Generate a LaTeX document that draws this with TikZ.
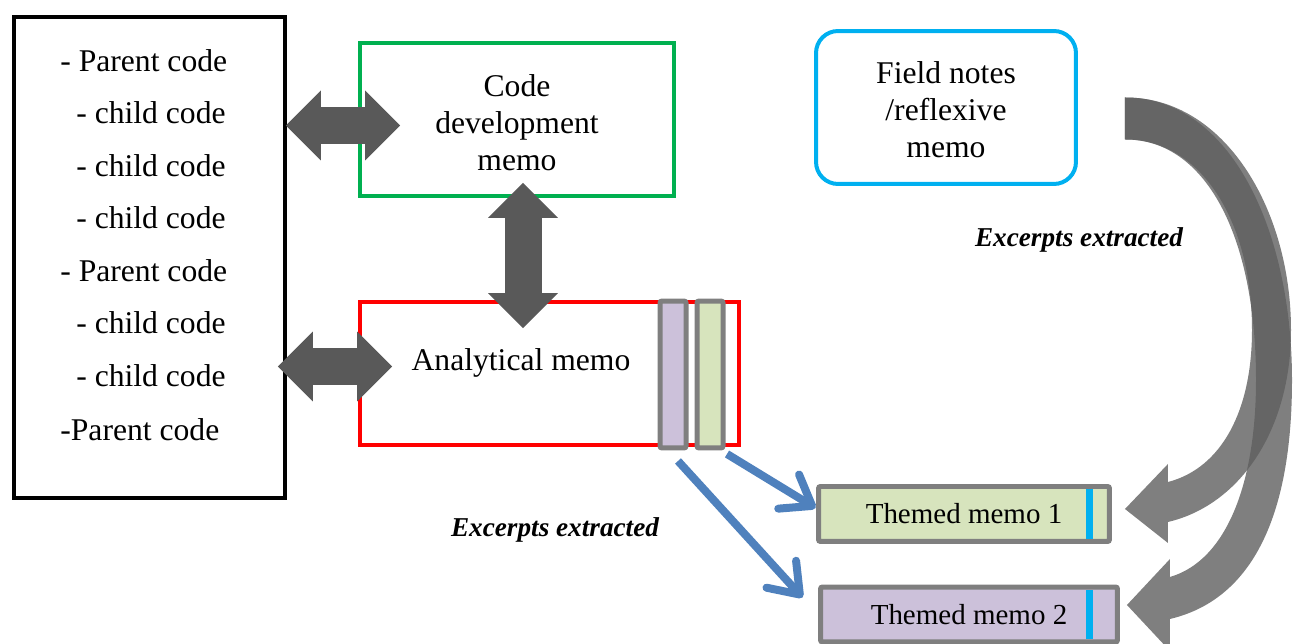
\documentclass[tikz,border=0pt]{standalone}
\usepackage{fontspec}
\setmainfont{Liberation Serif}
\usetikzlibrary{arrows.meta,calc}
\definecolor{devgreen}{HTML}{00B050}
\definecolor{anared}{HTML}{FF0000}
\definecolor{fieldblue}{HTML}{00B0F0}
\definecolor{extblue}{HTML}{4F81BD}
\definecolor{arrowgray}{HTML}{595959}
\definecolor{curvegray}{HTML}{5F5F5F}
\definecolor{bargray}{HTML}{7F7F7F}
\definecolor{barpurple}{HTML}{CCC1DA}
\definecolor{bargreen}{HTML}{D7E4BD}
\tikzset{
  box/.style={draw, line width=0.08cm, outer sep=0pt, inner sep=0pt, align=center,
    font=\fontsize{18}{21}\selectfont},
  label3/.style={inner sep=0pt, align=center, font=\fontsize{18}{21}\selectfont},
  codeline/.style={anchor=base west, inner sep=0pt, font=\fontsize{18}{21}\selectfont},
  bar/.style={draw=bargray, line width=0.1cm, rounded corners=0.04cm, outer sep=0pt,
    minimum width=0.52cm, minimum height=2.94cm},
  theme/.style={draw=bargray, line width=0.1cm, rounded corners=0.04cm, outer sep=0pt,
    inner sep=0pt, minimum height=1.1cm, font=\fontsize{16.5}{19}\selectfont},
  excerpt/.style={inner sep=0pt, font=\fontsize{15.5}{18}\selectfont\bfseries\itshape},
  blockarrow/.style={draw=arrowgray, line width=0.74cm,
    arrows={Triangle[length=0.7cm,width=1.4cm,line width=0pt]-Triangle[length=0.7cm,width=1.4cm,line width=0pt]}},
  bigcurve/.style={fill=curvegray, opacity=0.8},
  extract/.style={draw=extblue, line width=0.16cm,
    arrows={-Straight Barb[length=0.55cm,width=0.8cm,round]}}
}
\begin{document}
\begin{tikzpicture}[x=0.02cm,y=-0.02cm]
\useasboundingbox (0,0) rectangle (1296,644);
% code list
\node[box, minimum width=5.42cm, minimum height=9.62cm] (codes) at (149.5,257.5) {};
\node[codeline] (p1) at (60,72)  {- Parent code};
\node[codeline] (c1) at (76,124) {- child code};
\node[codeline] (c2) at (76,177) {- child code};
\node[codeline] (c3) at (76,229) {- child code};
\node[codeline] (p2) at (60,282) {- Parent code};
\node[codeline] (c4) at (76,334) {- child code};
\node[codeline] (c5) at (76,387) {- child code};
\node[codeline] (p3) at (60,441) {-Parent code};
% memos
\node[box, draw=devgreen, minimum width=6.28cm, minimum height=3.06cm] (devmemo) at (517,119.5) {};
\node[label3] (devtext) at (517,123) {Code\\development\\memo};
\node[box, draw=anared, minimum width=7.58cm, minimum height=2.86cm] (anamemo) at (549.5,373.5) {};
\node[label3] (anatext) at (521,363) {Analytical memo};
\node[bar, fill=barpurple] (pbar) at (673,374.5) {};
\node[bar, fill=bargreen] (gbar) at (710,374.5) {};
\node[box, draw=fieldblue, rounded corners=0.44cm, minimum width=5.2cm, minimum height=3.06cm]
  (fieldnotes) at (946,107.5) {};
\node[label3] (fieldtext) at (946,110) {Field notes\\/reflexive\\memo};
% themed memos
\node[theme, fill=bargreen, minimum width=5.82cm] (theme1) at (964,514) {Themed memo 1\hspace{0.2cm}};
\node[theme, fill=barpurple, minimum width=5.94cm] (theme2) at (969,614.5) {Themed memo 2\hspace{0.45cm}};
\fill[fieldblue] ($(theme1.north east)+(-23.5,2.5)$) rectangle ($(theme1.south east)+(-16.5,-2.5)$);
\fill[fieldblue] ($(theme2.north east)+(-31.5,2.5)$) rectangle ($(theme2.south east)+(-24.5,-2.5)$);
\node[excerpt] (exc1) at (1079,240) {Excerpts extracted};
\node[excerpt] (exc2) at (555,530) {Excerpts extracted};
% block arrows
\draw[blockarrow] ($(codes.east |- devmemo.west)+(1,6)$) -- ($(devmemo.west)+(40,6)$);
\draw[blockarrow] ($(codes.east |- anamemo.west)+(-7,-7)$) -- ($(anamemo.west)+(32,-7)$);
\draw[blockarrow] ($(devmemo.south)+(6,-13)$) -- ($(anamemo.north -| devmemo.south)+(6,26)$);
% excerpts to themed memos
\draw[extract] ($(gbar.south)+(17,6)$) -- ($(theme1.west)+(-3,-6)$);
\draw[extract] ($(pbar.south)+(5,13)$) -- ($(theme2.west)+(-18,-17)$);
% field notes excerpts
\coordinate (fieldsrc) at ($(fieldnotes.east)+(49,11)$);
\coordinate (tip1) at ($(theme1.east)+(15.5,-5)$);
\coordinate (tip2) at ($(theme2.east)+(9.5,-9.5)$);
\fill[bigcurve] (tip1) -- ++(43,-45) -- ++(0,18)
  .. controls (1222,468) and (1252,410) .. (1252,330)
  .. controls (1252,220) and (1200,139) .. ($(fieldsrc)+(0,21)$) -- ($(fieldsrc)+(0,-21)$)
  .. controls (1225,97) and (1291,210) .. (1291,330)
  .. controls (1291,430) and (1240,505) .. ($(tip1)+(43,13)$) -- ++(0,21) -- cycle;
\fill[bigcurve] (tip2) -- ++(43,-46) -- ++(0,18)
  .. controls (1228,560) and (1256,480) .. (1256,380)
  .. controls (1256,235) and (1205,139) .. ($(fieldsrc)+(0,21)$) -- ($(fieldsrc)+(0,-21)$)
  .. controls (1230,97) and (1292,230) .. (1292,380)
  .. controls (1292,520) and (1250,600) .. ($(tip2)+(43,14)$) -- ++(0,32) -- cycle;
\end{tikzpicture}
\end{document}
